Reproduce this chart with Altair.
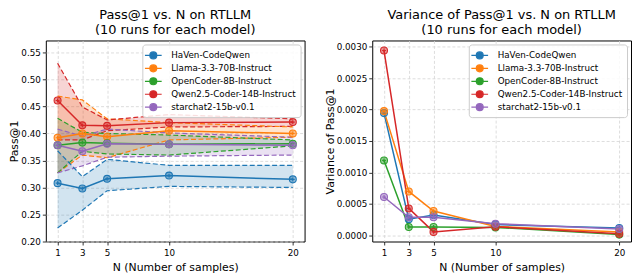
import altair as alt
import pandas as pd

FONT = "DejaVu Sans"

N_VALUES = [1, 3, 5, 10, 20]
MODELS = [
    "HaVen-CodeQwen",
    "Llama-3.3-70B-Instruct",
    "OpenCoder-8B-Instruct",
    "Qwen2.5-Coder-14B-Instruct",
    "starchat2-15b-v0.1",
]
COLORS = ["#1f77b4", "#ff7f0e", "#2ca02c", "#d62728", "#9467bd"]

# Pass@1 mean over 10 runs (per model, per N)
PASS_MEAN = [
    [0.308, 0.298, 0.316, 0.322, 0.315],
    [0.392, 0.400, 0.394, 0.405, 0.400],
    [0.378, 0.383, 0.382, 0.380, 0.381],
    [0.461, 0.415, 0.414, 0.420, 0.421],
    [0.378, 0.367, 0.381, 0.380, 0.378],
]
# lower dashed bound
PASS_LO = [
    [0.225, 0.258, 0.294, 0.302, 0.300],
    [0.327, 0.360, 0.355, 0.388, 0.393],
    [0.327, 0.367, 0.362, 0.360, 0.377],
    [0.388, 0.388, 0.405, 0.412, 0.413],
    [0.327, 0.340, 0.356, 0.358, 0.360],
]
# upper dashed bound
PASS_HI = [
    [0.368, 0.320, 0.352, 0.341, 0.341],
    [0.469, 0.462, 0.427, 0.420, 0.412],
    [0.428, 0.402, 0.400, 0.397, 0.388],
    [0.530, 0.449, 0.425, 0.435, 0.427],
    [0.408, 0.395, 0.408, 0.401, 0.393],
]
# variance of Pass@1
PASS_VAR = [
    [0.001944, 0.000256, 0.000323, 0.000170, 0.000115],
    [0.001976, 0.000697, 0.000385, 0.000140, 0.000053],
    [0.001191, 0.000131, 0.000131, 0.000125, 0.000010],
    [0.002940, 0.000427, 0.000053, 0.000135, 0.000022],
    [0.000608, 0.000287, 0.000287, 0.000183, 0.000100],
]

LEFT_Y_TICKS = [0.20, 0.25, 0.30, 0.35, 0.40, 0.45, 0.50, 0.55]
RIGHT_Y_TICKS = [0.0, 0.0005, 0.0010, 0.0015, 0.0020, 0.0025, 0.0030]

rows = []
for mi, m in enumerate(MODELS):
    for ni, n in enumerate(N_VALUES):
        rows.append({
            "model": m, "N": n,
            "mean": PASS_MEAN[mi][ni], "lo": PASS_LO[mi][ni], "hi": PASS_HI[mi][ni],
            "var": PASS_VAR[mi][ni],
        })
df = pd.DataFrame(rows)

MARKER = "M1,0A1,1,0,1,1,-1,0A1,1,0,1,1,1,0ZM-0.55,0H0.55M0,-0.55V0.55"
LEG_SYMBOL = ("M-1.4,0H1.4M0.58,0A0.58,0.58,0,1,1,-0.58,0A0.58,0.58,0,1,1,0.58,0Z"
              "M-0.32,0H0.32M0,-0.32V0.32")

# legend scales (explicit domain) and colour scale for lines/areas (data domain,
# alphabetical order == MODELS order) kept apart so the legends are not merged away
legend_scale = alt.Scale(domain=MODELS, range=COLORS)
line_scale = alt.Scale(range=COLORS)

legend = alt.Legend(
    title=None, orient="top-right", offset=4,
    symbolType=LEG_SYMBOL, symbolSize=144, symbolStrokeWidth=1.2,
    labelFont=FONT, labelFontSize=8.8, labelColor="black",
    padding=4, rowPadding=-1, labelOffset=11,
    fillColor="rgba(255,255,255,0.85)", strokeColor="#cccccc", cornerRadius=3,
    labelLimit=300,
)

x_enc = alt.X(
    "N:Q",
    scale=alt.Scale(domain=[0.05, 20.95], nice=False, zero=False),
    axis=alt.Axis(values=N_VALUES, title="N (Number of samples)", format="d",
                  labelPadding=3.5, titlePadding=4),
)


def color_enc():
    return alt.Color("model:N", scale=line_scale, legend=None)


def points(ycol, yscale, yaxis):
    return alt.Chart(df).mark_point(
        shape=MARKER, size=49, filled=True, fillOpacity=0.5, strokeWidth=1.1, opacity=1
    ).encode(
        x=x_enc,
        y=alt.Y(f"{ycol}:Q", scale=yscale, axis=yaxis),
        fill=alt.Fill("model:N", scale=legend_scale, legend=legend),
        stroke=alt.Stroke("model:N", scale=legend_scale, legend=legend),
    )


# ---- left panel ----
y_left_scale = alt.Scale(domain=[0.2, 0.572], nice=False, zero=False)
y_left_axis = alt.Axis(values=LEFT_Y_TICKS, format=".2f", title="Pass@1",
                       titlePadding=1, labelPadding=2)

band = alt.Chart(df).mark_area(opacity=0.2).encode(
    x=x_enc,
    y=alt.Y("lo:Q", scale=y_left_scale, axis=y_left_axis),
    y2="hi:Q",
    color=color_enc(),
)
lo_line = alt.Chart(df).mark_line(strokeDash=[5, 2.5], strokeWidth=1.2).encode(
    x=x_enc, y=alt.Y("lo:Q", scale=y_left_scale, axis=y_left_axis), color=color_enc()
)
hi_line = alt.Chart(df).mark_line(strokeDash=[5, 2.5], strokeWidth=1.2).encode(
    x=x_enc, y=alt.Y("hi:Q", scale=y_left_scale, axis=y_left_axis), color=color_enc()
)
mean_line = alt.Chart(df).mark_line(strokeWidth=1.5).encode(
    x=x_enc, y=alt.Y("mean:Q", scale=y_left_scale, axis=y_left_axis), color=color_enc()
)
left = alt.layer(
    band, lo_line, hi_line, mean_line, points("mean", y_left_scale, y_left_axis)
).properties(
    width=260, height=202,
    title=alt.Title(["Pass@1 vs. N on RTLLM", "(10 runs for each model)"]),
)

# ---- right panel ----
y_right_scale = alt.Scale(domain=[-0.0001, 0.0031], nice=False, zero=False)
y_right_axis = alt.Axis(values=RIGHT_Y_TICKS, format=".4f", title="Variance of Pass@1",
                        titlePadding=1, labelPadding=2)
var_line = alt.Chart(df).mark_line(strokeWidth=1.5).encode(
    x=x_enc, y=alt.Y("var:Q", scale=y_right_scale, axis=y_right_axis), color=color_enc()
)
right = alt.layer(
    var_line, points("var", y_right_scale, y_right_axis)
).properties(
    width=260, height=202,
    title=alt.Title(["Variance of Pass@1 vs. N on RTLLM", "(10 runs for each model)"]),
)

chart = alt.hconcat(left, right, spacing=18).resolve_scale(
    color="independent", fill="independent", stroke="independent"
).resolve_legend(
    color="independent", fill="independent", stroke="independent"
).properties(
    padding={"left": 0, "top": 0, "right": 0, "bottom": 0}
).configure_axis(
    labelFont=FONT, titleFont=FONT, labelFontSize=8.8, titleFontSize=10.9,
    titleFontWeight="normal", labelColor="black", titleColor="black",
    tickColor="black", tickSize=3.5, tickWidth=0.8, domain=False,
    gridColor="#d4d4d4", gridDash=[3, 2], gridWidth=0.8,
).configure_view(
    stroke="black", strokeWidth=1
).configure_title(
    font=FONT, fontSize=13, fontWeight="normal", color="black", offset=0, lineHeight=14.5
)

chart.save("out.html", embed_options={"renderer": "svg", "actions": False})
